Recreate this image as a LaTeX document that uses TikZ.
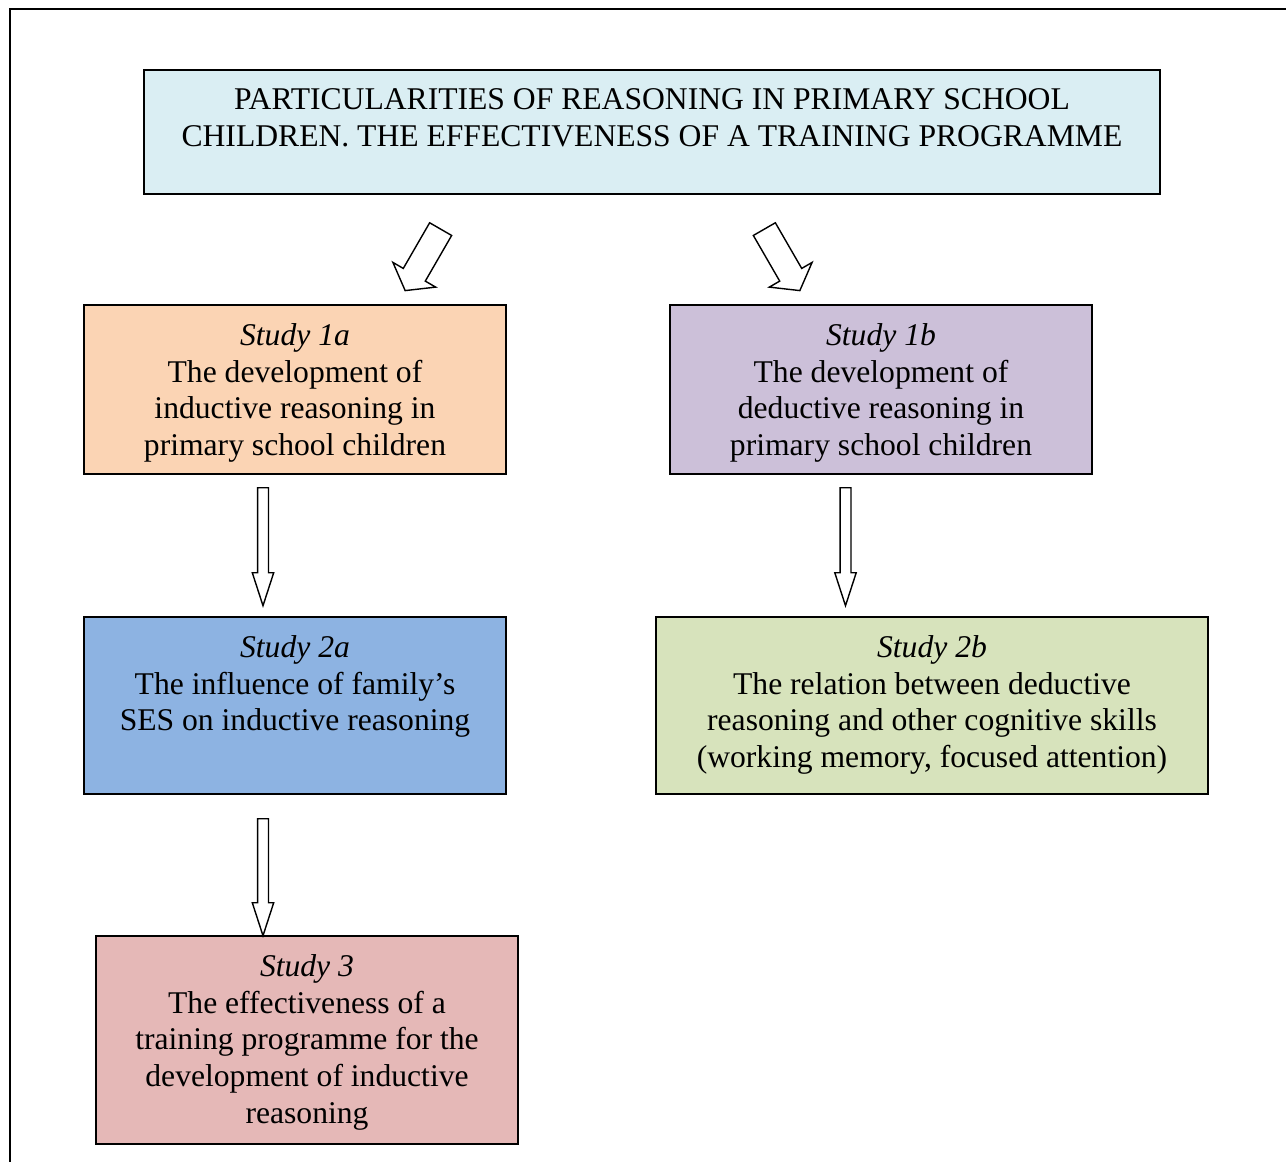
\documentclass[tikz,border=0pt]{standalone}
\usepackage{fontspec}
\setmainfont{Liberation Serif}
\usetikzlibrary{shapes.arrows, positioning, calc}

\definecolor{titleblue}{HTML}{DAEEF3}
\definecolor{peach}{HTML}{FBD4B4}
\definecolor{lilac}{HTML}{CCC0D9}
\definecolor{skyblue}{HTML}{8DB3E2}
\definecolor{sage}{HTML}{D7E3BC}
\definecolor{rose}{HTML}{E5B8B7}

\begin{document}
\begin{tikzpicture}[x=0.02cm, y=-0.02cm,
    box/.style={rectangle, draw, line width=0.8pt, inner sep=0pt},
    boxtext/.style={align=center, inner sep=0pt, font=\fontsize{18}{21}\selectfont},
    downarrow/.style={single arrow, draw, line width=0.8pt, fill=white, inner xsep=0pt, inner ysep=0.095cm,
        single arrow head extend=0.105cm, single arrow tip angle=36, rotate=-90, anchor=tail},
    slantarrow/.style={single arrow, draw, line width=0.8pt, fill=white, inner xsep=0pt, inner ysep=0.24cm,
        minimum height=1.42cm, single arrow head extend=0.24cm, single arrow tip angle=107, anchor=tail}
]
\useasboundingbox (0,0) rectangle (1286,1161);
\draw[line width=1.6pt] (1290,9) -- (10,9) -- (10,1165);

% boxes
\node[box, fill=titleblue, minimum width=20.32cm, minimum height=2.48cm] (title) at (652,132) {};
\node[box, fill=peach, minimum width=8.44cm, minimum height=3.38cm] (s1a) at (295,389.5) {};
\node[box, fill=lilac, minimum width=8.44cm, minimum height=3.38cm] (s1b) at (881,389.5) {};
\node[box, fill=skyblue, minimum width=8.44cm, minimum height=3.54cm] (s2a) at (295,705.5) {};
\node[box, fill=sage, minimum width=11.04cm, minimum height=3.54cm] (s2b) at (932,705.5) {};
\node[box, fill=rose, minimum width=8.44cm, minimum height=4.16cm] (s3) at (307,1040) {};

% texts
\node[boxtext, below=0.38cm of title.north] (titletext) {PARTICULARITIES OF REASONING IN PRIMARY SCHOOL\\CHILDREN. THE EFFECTIVENESS OF A TRAINING PROGRAMME};
\node[boxtext, below=0.37cm of s1a.north] (s1atext) {\textit{Study 1a}\\The development of\\inductive reasoning in\\primary school children};
\node[boxtext, below=0.37cm of s1b.north] (s1btext) {\textit{Study 1b}\\The development of\\deductive reasoning in\\primary school children};
\node[boxtext, below=0.37cm of s2a.north] (s2atext) {\textit{Study 2a}\\The influence of family’s\\SES on inductive reasoning};
\node[boxtext, below=0.37cm of s2b.north] (s2btext) {\textit{Study 2b}\\The relation between deductive\\reasoning and other cognitive skills\\(working memory, focused attention)};
\node[boxtext, below=0.37cm of s3.north] (s3text) {\textit{Study 3}\\The effectiveness of a\\training programme for the\\development of inductive\\reasoning};

% block arrows
\node[slantarrow, rotate=240] (toleft) at (441,228.5) {};
\node[slantarrow, rotate=-60] (toright) at (764,228.5) {};
\node[downarrow, minimum height=2.36cm] (down1a) at (263,487) {};
\node[downarrow, minimum height=2.36cm] (down1b) at (845.5,487) {};
\node[downarrow, minimum height=2.34cm] (down2a) at (263,818) {};
\end{tikzpicture}
\end{document}
